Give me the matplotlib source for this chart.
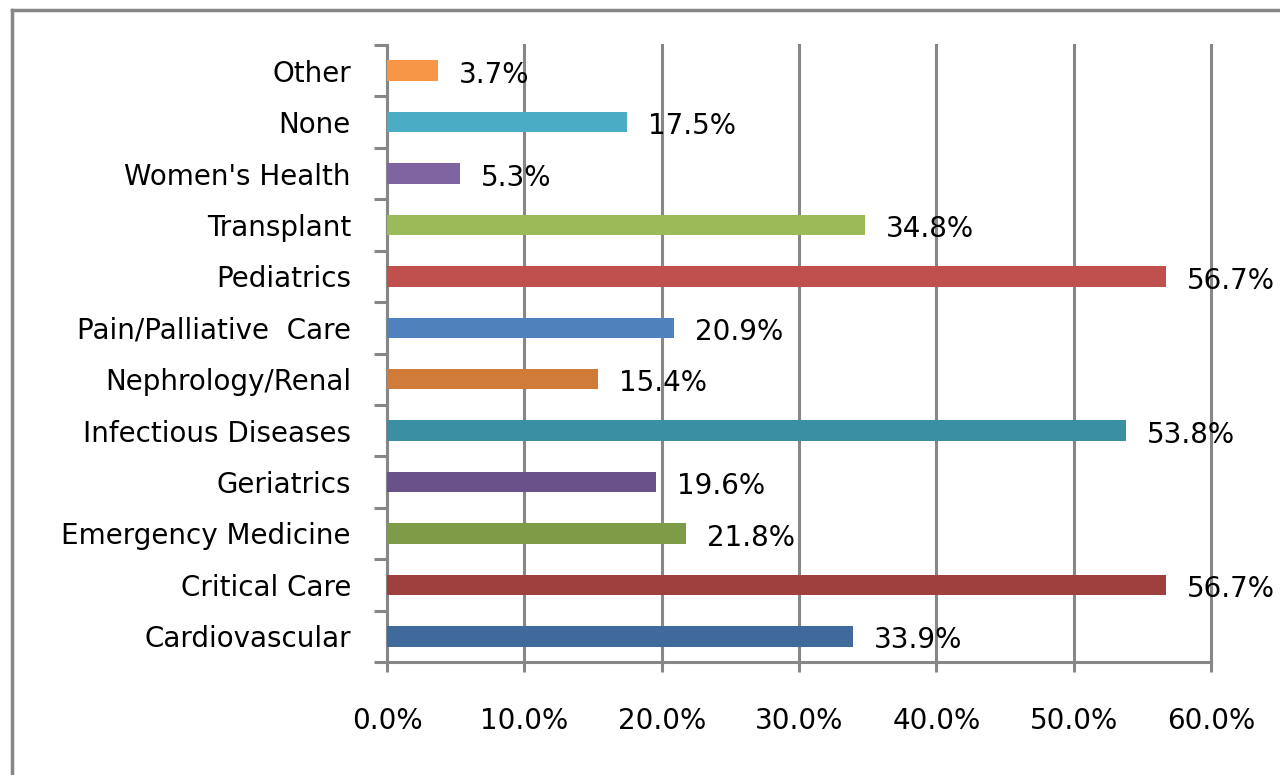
import matplotlib
matplotlib.use("Agg")
import matplotlib.pyplot as plt
from matplotlib.lines import Line2D
from matplotlib.ticker import FuncFormatter, FixedLocator

categories = [
    "Cardiovascular", "Critical Care", "Emergency Medicine", "Geriatrics",
    "Infectious Diseases", "Nephrology/Renal", "Pain/Palliative  Care",
    "Pediatrics", "Transplant", "Women's Health", "None", "Other",
]
values = [33.9, 56.7, 21.8, 19.6, 53.8, 15.4, 20.9, 56.7, 34.8, 5.3, 17.5, 3.7]
colors = [
    "#40699C", "#9E403E", "#7E9B48", "#69518A", "#3A8FA2", "#D07C38",
    "#4F81BD", "#C0504D", "#9BBB59", "#8064A2", "#4BACC6", "#F79646",
]
xticks = [0, 10, 20, 30, 40, 50, 60]

GRAY = "#878787"
FS = 20

plt.rcParams["font.family"] = ["DejaVu Sans"]

fig = plt.figure(figsize=(12.8, 7.75), dpi=100)
ax = fig.add_axes([387 / 1280, 1 - 662 / 775, (1211 - 387) / 1280, (662 - 45) / 775])

y = list(range(len(categories)))
ax.barh(y, values, height=0.4, color=colors, zorder=3)

for yi, v in zip(y, values):
    ax.annotate(f"{v:.1f}%", (v, yi), xytext=(15, -3), textcoords="offset points",
                ha="left", va="center", fontsize=FS, zorder=4)

ax.set_xlim(0, 60)
ax.set_ylim(-0.5, len(categories) - 0.5)
ax.set_xticks(xticks)
ax.xaxis.set_major_formatter(FuncFormatter(lambda v, p: f"{v:.1f}%"))
ax.set_yticks(y)
ax.set_yticklabels(categories)
ax.yaxis.set_minor_locator(FixedLocator([i - 0.5 for i in range(len(categories) + 1)]))

ax.tick_params(axis="y", which="major", length=0, pad=26, labelsize=FS)
ax.tick_params(axis="y", which="minor", length=9.5, width=2.2, color=GRAY, direction="out")
ax.tick_params(axis="x", which="major", length=7.5, width=2.2, color=GRAY, pad=25, labelsize=FS)

ax.grid(axis="x", color=GRAY, linewidth=2.2, zorder=1)
for gl in ax.get_xgridlines():
    gl.set_clip_on(False)
ax.set_axisbelow(True)
for s in ["top", "right"]:
    ax.spines[s].set_visible(False)
for s in ["left", "bottom"]:
    ax.spines[s].set_color(GRAY)
    ax.spines[s].set_linewidth(2.2)

# outer chart border (left and top visible)
fig.add_artist(Line2D([12 / 1280, 12 / 1280], [0, 1 - 10 / 775], color=GRAY, linewidth=2.5,
                      transform=fig.transFigure))
fig.add_artist(Line2D([12 / 1280, 1], [1 - 10 / 775, 1 - 10 / 775], color=GRAY, linewidth=2.5,
                      transform=fig.transFigure))

fig.savefig("out.png", dpi=100)
